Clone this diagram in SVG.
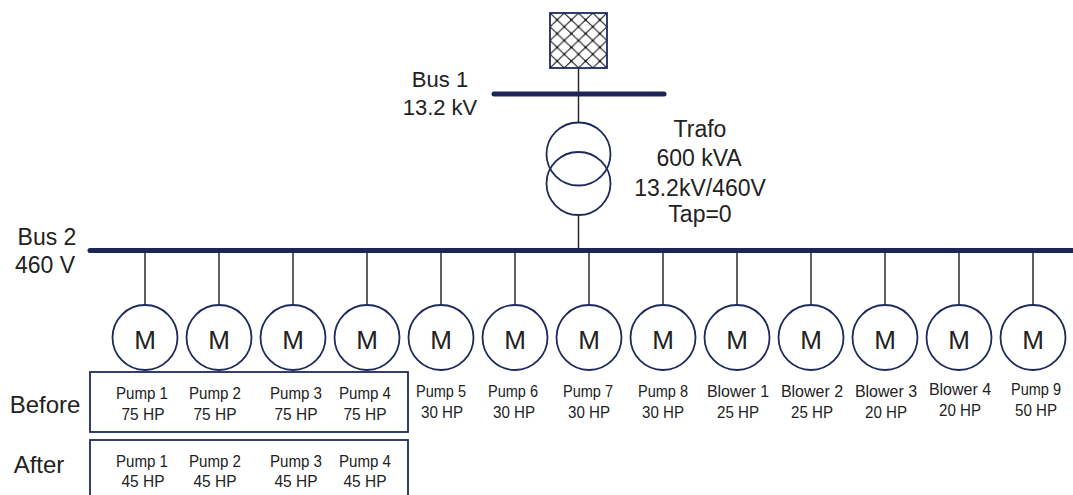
<svg xmlns="http://www.w3.org/2000/svg" width="1073" height="495" viewBox="0 0 1073 495">
<style>
  text { font-family: "Liberation Sans", Arial, sans-serif; fill: #222; }
  .big { font-size: 22px; }
  .tr { font-size: 23px; text-anchor: middle; }
  .side { font-size: 24px; }
  .m { font-size: 26px; text-anchor: middle; }
  .lbl { font-size: 16px; text-anchor: middle; }
  .bus { stroke: #1b2656; stroke-width: 5; stroke-linecap: round; fill: none; }
  .wire { stroke: #2a2a2a; stroke-width: 1.5; fill: none; }
  .mot { fill: #fff; stroke: #1f2a5c; stroke-width: 1.8; }
  .wind { fill: none; stroke: #1f2a5c; stroke-width: 1.8; }
  .box { fill: #fff; stroke: #1f2a5c; stroke-width: 1.8; }
</style>
<defs>
  <pattern id="hatch" patternUnits="userSpaceOnUse" x="550" y="13" width="14.25" height="13.75">
    <path d="M0 0 L14.25 13.75 M14.25 0 L0 13.75" stroke="#111" stroke-width="1"/>
    <circle cx="7.125" cy="6.875" r="1.2" fill="#111"/>
    <circle cx="0" cy="0" r="1.2" fill="#111"/>
    <circle cx="14.25" cy="0" r="1.2" fill="#111"/>
    <circle cx="0" cy="13.75" r="1.2" fill="#111"/>
    <circle cx="14.25" cy="13.75" r="1.2" fill="#111"/>
  </pattern>
</defs>
<rect width="1073" height="495" fill="#fff"/>

<g id="connectors">
  <line class="wire" x1="578.5" y1="68" x2="578.5" y2="123"/>
  <line class="wire" x1="578.5" y1="215" x2="578.5" y2="250"/>
  <line class="wire" x1="145" y1="250" x2="145" y2="305"/>
  <line class="wire" x1="219" y1="250" x2="219" y2="305"/>
  <line class="wire" x1="293" y1="250" x2="293" y2="305"/>
  <line class="wire" x1="367" y1="250" x2="367" y2="305"/>
  <line class="wire" x1="441" y1="250" x2="441" y2="305"/>
  <line class="wire" x1="515" y1="250" x2="515" y2="305"/>
  <line class="wire" x1="589" y1="250" x2="589" y2="305"/>
  <line class="wire" x1="663" y1="250" x2="663" y2="305"/>
  <line class="wire" x1="737" y1="250" x2="737" y2="305"/>
  <line class="wire" x1="811" y1="250" x2="811" y2="305"/>
  <line class="wire" x1="885" y1="250" x2="885" y2="305"/>
  <line class="wire" x1="959" y1="250" x2="959" y2="305"/>
  <line class="wire" x1="1033" y1="250" x2="1033" y2="305"/>
</g>

<g id="utility">
  <rect x="550" y="13" width="57" height="55" fill="url(#hatch)" stroke="#1f2a5c" stroke-width="1.8"/>
</g>

<g id="bus1">
  <line class="bus" x1="494" y1="94" x2="664" y2="94"/>
  <text class="big" x="440" y="87" text-anchor="middle">Bus 1</text>
  <text class="big" x="440" y="115" text-anchor="middle">13.2 kV</text>
</g>

<g id="trafo">
  <ellipse class="wind" cx="578.5" cy="154" rx="32" ry="31.5"/>
  <ellipse class="wind" cx="578.5" cy="183.5" rx="32" ry="31.5"/>
  <text class="tr" x="700" y="137">Trafo</text>
  <text class="tr" x="699" y="166">600 kVA</text>
  <text class="tr" x="700" y="196">13.2kV/460V</text>
  <text class="tr" x="700" y="222">Tap=0</text>
</g>

<g id="bus2">
  <line class="bus" x1="90" y1="250.5" x2="1080" y2="250.5"/>
  <text class="big" x="47" y="245" text-anchor="middle" style="font-size:23px">Bus 2</text>
  <text class="big" x="45" y="273" text-anchor="middle" style="font-size:23px">460 V</text>
</g>

<g id="motor1"><ellipse class="mot" cx="145" cy="337.5" rx="32.5" ry="32.5"/><text class="m" x="145" y="348.5">M</text></g>
<g id="motor2"><ellipse class="mot" cx="219" cy="337.5" rx="32.5" ry="32.5"/><text class="m" x="219" y="348.5">M</text></g>
<g id="motor3"><ellipse class="mot" cx="293" cy="337.5" rx="32.5" ry="32.5"/><text class="m" x="293" y="348.5">M</text></g>
<g id="motor4"><ellipse class="mot" cx="367" cy="337.5" rx="32.5" ry="32.5"/><text class="m" x="367" y="348.5">M</text></g>
<g id="motor5"><ellipse class="mot" cx="441" cy="337.5" rx="32.5" ry="32.5"/><text class="m" x="441" y="348.5">M</text></g>
<g id="motor6"><ellipse class="mot" cx="515" cy="337.5" rx="32.5" ry="32.5"/><text class="m" x="515" y="348.5">M</text></g>
<g id="motor7"><ellipse class="mot" cx="589" cy="337.5" rx="32.5" ry="32.5"/><text class="m" x="589" y="348.5">M</text></g>
<g id="motor8"><ellipse class="mot" cx="663" cy="337.5" rx="32.5" ry="32.5"/><text class="m" x="663" y="348.5">M</text></g>
<g id="motor9"><ellipse class="mot" cx="737" cy="337.5" rx="32.5" ry="32.5"/><text class="m" x="737" y="348.5">M</text></g>
<g id="motor10"><ellipse class="mot" cx="811" cy="337.5" rx="32.5" ry="32.5"/><text class="m" x="811" y="348.5">M</text></g>
<g id="motor11"><ellipse class="mot" cx="885" cy="337.5" rx="32.5" ry="32.5"/><text class="m" x="885" y="348.5">M</text></g>
<g id="motor12"><ellipse class="mot" cx="959" cy="337.5" rx="32.5" ry="32.5"/><text class="m" x="959" y="348.5">M</text></g>
<g id="motor13"><ellipse class="mot" cx="1033" cy="337.5" rx="32.5" ry="32.5"/><text class="m" x="1033" y="348.5">M</text></g>

<g id="before">
  <rect class="box" x="90" y="372" width="318" height="60"/>
  <text class="side" x="45" y="413" text-anchor="middle">Before</text>
  <text class="lbl" x="142" y="399" textLength="52" lengthAdjust="spacingAndGlyphs">Pump 1</text><text class="lbl" x="143" y="420" textLength="43" lengthAdjust="spacingAndGlyphs">75 HP</text>
  <text class="lbl" x="215" y="399" textLength="52" lengthAdjust="spacingAndGlyphs">Pump 2</text><text class="lbl" x="215" y="420" textLength="43" lengthAdjust="spacingAndGlyphs">75 HP</text>
  <text class="lbl" x="296" y="399" textLength="52" lengthAdjust="spacingAndGlyphs">Pump 3</text><text class="lbl" x="296" y="420" textLength="43" lengthAdjust="spacingAndGlyphs">75 HP</text>
  <text class="lbl" x="365" y="399" textLength="52" lengthAdjust="spacingAndGlyphs">Pump 4</text><text class="lbl" x="365" y="420" textLength="43" lengthAdjust="spacingAndGlyphs">75 HP</text>
</g>

<g id="after">
  <rect class="box" x="90" y="440" width="318" height="62"/>
  <text class="side" x="39" y="473" text-anchor="middle">After</text>
  <text class="lbl" x="142" y="467" textLength="52" lengthAdjust="spacingAndGlyphs">Pump 1</text><text class="lbl" x="143" y="487" textLength="43" lengthAdjust="spacingAndGlyphs">45 HP</text>
  <text class="lbl" x="215" y="467" textLength="52" lengthAdjust="spacingAndGlyphs">Pump 2</text><text class="lbl" x="215" y="487" textLength="43" lengthAdjust="spacingAndGlyphs">45 HP</text>
  <text class="lbl" x="296" y="467" textLength="52" lengthAdjust="spacingAndGlyphs">Pump 3</text><text class="lbl" x="296" y="487" textLength="43" lengthAdjust="spacingAndGlyphs">45 HP</text>
  <text class="lbl" x="365" y="467" textLength="52" lengthAdjust="spacingAndGlyphs">Pump 4</text><text class="lbl" x="365" y="487" textLength="43" lengthAdjust="spacingAndGlyphs">45 HP</text>
</g>

<g id="loads">
  <text class="lbl" x="441" y="397" textLength="50" lengthAdjust="spacingAndGlyphs">Pump 5</text><text class="lbl" x="442" y="418" textLength="42" lengthAdjust="spacingAndGlyphs">30 HP</text>
  <text class="lbl" x="513" y="397" textLength="50" lengthAdjust="spacingAndGlyphs">Pump 6</text><text class="lbl" x="514" y="418" textLength="42" lengthAdjust="spacingAndGlyphs">30 HP</text>
  <text class="lbl" x="588" y="397" textLength="50" lengthAdjust="spacingAndGlyphs">Pump 7</text><text class="lbl" x="589" y="418" textLength="42" lengthAdjust="spacingAndGlyphs">30 HP</text>
  <text class="lbl" x="663" y="397" textLength="50" lengthAdjust="spacingAndGlyphs">Pump 8</text><text class="lbl" x="663" y="418" textLength="42" lengthAdjust="spacingAndGlyphs">30 HP</text>
  <text class="lbl" x="738" y="397">Blower 1</text><text class="lbl" x="738" y="418" textLength="42" lengthAdjust="spacingAndGlyphs">25 HP</text>
  <text class="lbl" x="812" y="397">Blower 2</text><text class="lbl" x="812" y="418" textLength="42" lengthAdjust="spacingAndGlyphs">25 HP</text>
  <text class="lbl" x="886" y="397">Blower 3</text><text class="lbl" x="886" y="418" textLength="42" lengthAdjust="spacingAndGlyphs">20 HP</text>
  <text class="lbl" x="960" y="395">Blower 4</text><text class="lbl" x="960" y="416" textLength="42" lengthAdjust="spacingAndGlyphs">20 HP</text>
  <text class="lbl" x="1036" y="395" textLength="50" lengthAdjust="spacingAndGlyphs">Pump 9</text><text class="lbl" x="1036" y="416" textLength="42" lengthAdjust="spacingAndGlyphs">50 HP</text>
</g>
</svg>
